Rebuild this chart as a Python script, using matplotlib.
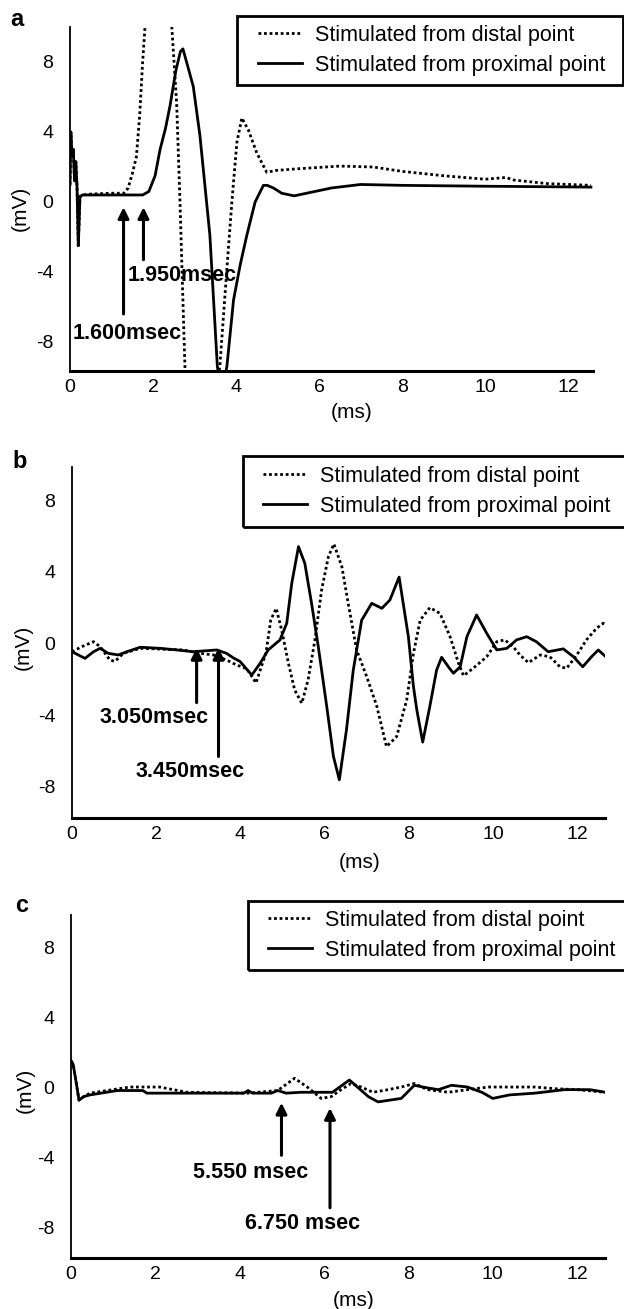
import matplotlib
matplotlib.use("Agg")
import matplotlib.pyplot as plt
from matplotlib.patches import Rectangle

plt.rcParams['font.family'] = ['Liberation Sans', 'DejaVu Sans']
plt.rcParams['axes.unicode_minus'] = False

# ---------------- data ----------------
artifact_t = [0.0, 0.02, 0.05, 0.08, 0.11, 0.14, 0.17, 0.2, 0.24, 0.3]
artifact_v = [1.0, 4.0, 2.6, 3.0, 1.2, 2.3, 0.8, -2.5, 0.3, 0.4]

a_dist_t = [0.5, 1.0, 1.3, 1.4, 1.5, 1.6, 1.68, 1.75, 1.85, 2.1, 2.35, 2.45, 2.57, 2.65,
            2.72, 2.77, 3.0, 3.3, 3.61, 3.78, 3.9, 4.02, 4.14, 4.3, 4.5, 4.74, 4.96, 5.5,
            6.5, 7.3, 8.0, 9.0, 10.0, 10.5, 10.7, 11.5, 12.55]
a_dist_v = [0.45, 0.5, 0.5, 0.8, 1.6, 2.6, 5.0, 8.0, 11.5, 15.0, 12.0, 10.1, 5.6, 0.0,
            -5.6, -9.5, -14.0, -14.0, -9.4, -3.8, 0.0, 3.4, 4.8, 4.1, 2.8, 1.7, 1.8, 1.9,
            2.05, 2.0, 1.75, 1.5, 1.3, 1.4, 1.25, 1.05, 0.95]
a_prox_t = [0.5, 1.0, 1.75, 1.9, 2.05, 2.17, 2.3, 2.41, 2.55, 2.66, 2.72, 2.82, 2.97,
            3.13, 3.37, 3.55, 3.65, 3.78, 3.94, 4.1, 4.26, 4.46, 4.66, 4.75, 4.9, 5.1,
            5.4, 5.8, 6.3, 7.0, 8.0, 10.0, 12.55]
a_prox_v = [0.4, 0.4, 0.4, 0.6, 1.5, 3.0, 4.2, 5.5, 7.5, 8.6, 8.75, 7.9, 6.6,
            3.8, -1.9, -9.4, -11.0, -9.4, -5.6, -3.6, -1.9, 0.0, 0.95, 0.95, 0.8, 0.5,
            0.35, 0.55, 0.8, 1.0, 0.95, 0.9, 0.85]

b_dist_t = [0.0, 0.23, 0.51, 0.67, 0.9, 1.02, 1.22, 1.62, 2.64, 3.04, 3.36, 3.67, 3.91,
            4.15, 4.37, 4.61, 4.72, 4.85, 4.98, 5.14, 5.29, 5.46, 5.61, 5.77, 5.93, 6.09,
            6.22, 6.41, 6.56, 6.76, 7.0, 7.24, 7.47, 7.71, 7.95, 8.11, 8.27, 8.5, 8.74,
            8.98, 9.18, 9.3, 9.53, 9.85, 10.09, 10.28, 10.48, 10.64, 10.84, 11.12, 11.35,
            11.59, 11.75, 11.99, 12.22, 12.46, 12.62, 12.72]
b_dist_v = [-0.46, -0.18, 0.1, -0.18, -0.92, -1.0, -0.55, -0.27, -0.36, -0.55, -0.64,
            -0.92, -1.2, -1.4, -2.2, -0.5, 1.3, 1.96, 0.75, -1.1, -2.6, -3.33, -2.0, 0.2,
            3.0, 4.84, 5.55, 4.28, 2.24, -0.36, -1.85, -3.5, -5.75, -5.2, -3.15, -0.55,
            1.3, 2.0, 1.68, 0.38, -1.1, -1.8, -1.38, -0.74, 0.1, 0.2, -0.18, -0.64, -1.07,
            -0.64, -0.74, -1.3, -1.38, -0.64, 0.2, 0.85, 1.13, 0.95]
b_prox_t = [0.0, 0.31, 0.51, 0.67, 0.86, 1.1, 1.3, 1.62, 2.09, 2.49, 2.88, 3.44, 3.67,
            3.83, 3.99, 4.27, 4.47, 4.66, 4.94, 5.1, 5.22, 5.38, 5.53, 5.69, 5.85, 6.05,
            6.21, 6.35, 6.52, 6.68, 6.88, 7.12, 7.36, 7.55, 7.77, 7.99, 8.11, 8.19, 8.33,
            8.5, 8.66, 8.78, 8.94, 9.06, 9.22, 9.38, 9.61, 9.85, 10.09, 10.33, 10.56,
            10.8, 11.03, 11.31, 11.67, 11.91, 12.13, 12.34, 12.5, 12.66]
b_prox_v = [-0.46, -0.83, -0.46, -0.27, -0.55, -0.64, -0.46, -0.21, -0.27, -0.36,
            -0.46, -0.36, -0.55, -0.8, -1.0, -1.76, -1.1, -0.36, 0.2, 1.12, 3.36, 5.4,
            4.47, 2.24, -0.18, -3.5, -6.3, -7.6, -4.8, -1.5, 1.3, 2.24, 1.96, 2.42, 3.7,
            0.38, -2.4, -3.7, -5.5, -3.5, -1.48, -0.77, -1.3, -1.66, -1.3, 0.38, 1.59,
            0.57, -0.36, -0.27, 0.2, 0.38, 0.1, -0.46, -0.3, -0.74, -1.3, -0.74, -0.36,
            -0.7]

c_dist_t = [0.45, 1.4, 2.1, 2.75, 4.2, 4.9, 5.3, 5.6, 5.93, 6.17, 6.4, 6.64, 6.88,
            7.16, 7.52, 7.83, 8.14, 8.45, 8.95, 9.4, 9.9, 10.4, 11.0, 11.5, 12.0, 12.67]
c_dist_v = [-0.35, 0.0, 0.0, -0.3, -0.35, -0.2, 0.5, 0.0, -0.65, -0.55, -0.15, 0.2,
            0.0, -0.3, -0.15, 0.0, 0.2, -0.15, -0.3, -0.15, 0.0, 0.0, 0.0, -0.1, -0.15,
            -0.3]
c_prox_t = [0.45, 1.1, 1.7, 1.8, 4.1, 4.2, 4.3, 4.75, 4.9, 5.1, 5.45, 5.85, 6.2, 6.6,
            7.05, 7.28, 7.83, 8.14, 8.45, 8.71, 9.02, 9.4, 9.74, 10.0, 10.4, 11.0,
            11.7, 12.3, 12.67]
c_prox_v = [-0.45, -0.2, -0.2, -0.35, -0.35, -0.2, -0.35, -0.35, -0.2, -0.35, -0.3,
            -0.3, -0.3, 0.4, -0.55, -0.85, -0.65, 0.1, -0.05, -0.15, 0.1, 0.0, -0.3,
            -0.65, -0.45, -0.35, -0.15, -0.15, -0.3]
c_artifact_t = [0.0, 0.05, 0.1, 0.19, 0.3]
c_artifact_v = [1.5, 1.3, 0.6, -0.75, -0.55]

legend_labels = ["Stimulated from distal point", "Stimulated from proximal point"]
y_ticks = [-8, -4, 0, 4, 8]
x_ticks = [0, 2, 4, 6, 8, 10, 12]

# annotations: (label, arrow x, head y, tail y, text x, text y)
a_notes = [("1.600msec", 1.29, -0.3, -6.4, 1.38, -7.5),
           ("1.950msec", 1.77, -0.3, -3.3, 2.71, -4.2)]
b_notes = [("3.050msec", 2.96, -0.25, -3.3, 1.95, -4.1),
           ("3.450msec", 3.48, -0.25, -6.3, 2.8, -7.15)]
c_notes = [("5.550 msec", 4.99, -0.9, -3.9, 4.27, -4.9),
           ("6.750 msec", 6.14, -1.2, -6.9, 5.49, -7.8)]

# ---------------- figure ----------------
W, H = 624, 1309
fig = plt.figure(figsize=(W / 100, H / 100), dpi=100)

def px_axes(l, r, t, b):
    return fig.add_axes([l / W, 1 - b / H, (r - l) / W, (b - t) / H])

panels = [
    dict(box=(70, 593, 27, 371), xlim=(0, 12.6), ylim=(-9.66, 10.0),
         dist=(artifact_t + a_dist_t, artifact_v + a_dist_v),
         prox=(artifact_t + a_prox_t, artifact_v + a_prox_v),
         notes=a_notes, legbox=(237, 623, 16, 85), leghandle=258,
         letter=("a", 17, 20), mslab=(352, 413), mvlab=(20, 208)),
    dict(box=(72, 605, 467, 818), xlim=(0, 12.66), ylim=(-9.73, 9.84),
         dist=(b_dist_t, b_dist_v), prox=(b_prox_t, b_prox_v),
         notes=b_notes, legbox=(243, 660, 456, 527), leghandle=263,
         letter=("b", 20, 461), mslab=(360, 862), mvlab=(23, 647)),
    dict(box=(71, 605, 915, 1258), xlim=(0, 12.66), ylim=(-9.77, 9.83),
         dist=(c_artifact_t + c_dist_t, c_artifact_v + c_dist_v),
         prox=(c_artifact_t + c_prox_t, c_artifact_v + c_prox_v),
         notes=c_notes, legbox=(248, 660, 901, 970), leghandle=268,
         letter=("c", 22, 906), mslab=(354, 1300), mvlab=(25, 1090)),
]

for p in panels:
    l, r, t, b = p['box']
    ax = px_axes(l, r, t, b)
    ld, = ax.plot(p['dist'][0], p['dist'][1], color='black', lw=2.0,
                  linestyle=(0, (1, 1)), zorder=3)
    lp, = ax.plot(p['prox'][0], p['prox'][1], color='black', lw=2.0,
                  solid_joinstyle='round', zorder=3)
    ax.set_xlim(*p['xlim'])
    ax.set_ylim(*p['ylim'])
    ax.set_xticks(x_ticks)
    ax.set_yticks(y_ticks)
    ax.tick_params(length=0, labelsize=14, pad=6)
    ax.tick_params(axis='y', pad=12)
    for s in ['top', 'right']:
        ax.spines[s].set_visible(False)
    ax.spines['left'].set_linewidth(1.3)
    ax.spines['bottom'].set_linewidth(2.2)
    mx, my = p['mslab']
    fig.text(mx / W, 1 - my / H, "(ms)", ha='center', va='center', fontsize=15)
    vx, vy = p['mvlab']
    fig.text(vx / W, 1 - vy / H, "(mV)", ha='center', va='center', fontsize=15,
             rotation=90)
    lt, lx, ly = p['letter']
    fig.text(lx / W, 1 - ly / H, lt, ha='center', va='center', fontsize=17,
             fontweight='bold')
    for lab, x, yh, yt, tx, ty in p['notes']:
        ax.annotate("", xy=(x, yh), xytext=(x, yt),
                    arrowprops=dict(arrowstyle='-|>', lw=2.2, color='black',
                                    mutation_scale=16, shrinkA=0, shrinkB=0),
                    zorder=4)
        ax.text(tx, ty, lab, ha='center', va='center', fontsize=15.5,
                fontweight='bold', zorder=2)
    # legend frame
    bx0, bx1, by0, by1 = p['legbox']
    fig.add_artist(Rectangle((bx0 / W, 1 - by1 / H), (bx1 - bx0) / W, (by1 - by0) / H,
                             transform=fig.transFigure, fill=False,
                             edgecolor='black', lw=2.0, clip_on=False))
    leg = ax.legend([ld, lp], legend_labels, loc='center left',
                    bbox_to_anchor=(p['leghandle'] / W, 1 - (by0 + by1) / 2 / H),
                    bbox_transform=fig.transFigure, frameon=False,
                    fontsize=15.5, handlelength=2.05, handletextpad=0.62,
                    labelspacing=0.42, borderpad=0.0, borderaxespad=0)

fig.savefig("out.png", dpi=100)
